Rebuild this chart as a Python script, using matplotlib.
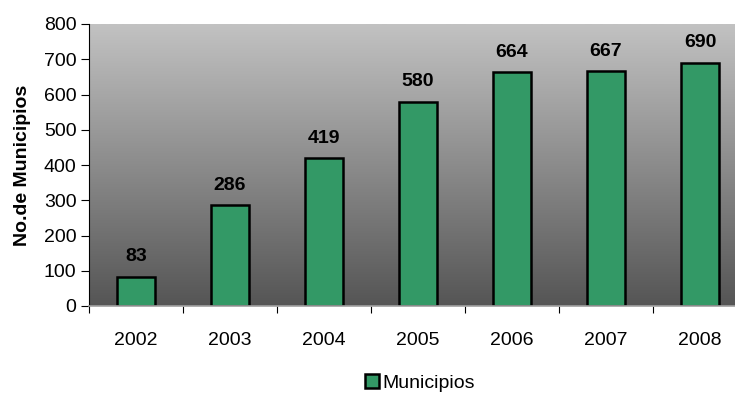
import matplotlib
matplotlib.use("Agg")
import matplotlib.pyplot as plt
import numpy as np

plt.rcParams['font.family'] = ['Liberation Sans', 'DejaVu Sans']

years = ['2002', '2003', '2004', '2005', '2006', '2007', '2008']
values = [83, 286, 419, 580, 664, 667, 690]
series_name = 'Municipios'
ylabel = 'No.de Municipios'

fig = plt.figure(figsize=(7.35, 3.96), dpi=100)
ax = fig.add_axes([89/735, 90/396, 658/735, 282/396])

# gradient background
grad = np.linspace(0, 1, 256).reshape(-1, 1)
cmap = matplotlib.colors.LinearSegmentedColormap.from_list('g', ['#555555', '#c2c2c2'])
ax.imshow(grad, extent=[-0.5, len(years) - 0.5, 0, 800], origin='lower',
          aspect='auto', cmap=cmap, zorder=0)

x = np.arange(len(years))
bars = ax.bar(x, values, width=0.41, color='#339966', edgecolor='black',
              linewidth=1.8, zorder=2, label=series_name)
for xi, v in zip(x, values):
    ax.text(xi, v + 32, str(v), ha='center', va='bottom', fontsize=14,
            fontweight='bold', zorder=3)

ax.set_xlim(-0.5, len(years) - 0.5)
ax.set_ylim(0, 800)
ax.set_yticks(range(0, 801, 100))
ax.set_xticks(np.arange(-0.5, len(years), 1), minor=False)
ax.set_xticklabels([])
ax.set_xticks(x, minor=True)
ax.set_xticklabels(years, minor=True)
ax.tick_params(axis='x', which='minor', length=0, pad=19, labelsize=14)
ax.tick_params(axis='x', which='major', length=5, direction='out', color='black')
ax.tick_params(axis='y', length=6, direction='out', labelsize=14, pad=3)

for s in ['top', 'right']:
    ax.spines[s].set_visible(False)
ax.spines['left'].set_color('black')
ax.spines['bottom'].set_color('#a0a0a0')
ax.spines['bottom'].set_linewidth(1.2)

ax.set_ylabel(ylabel, fontsize=14, fontweight='bold')
ax.yaxis.set_label_coords(-58/658, 0.5)

fig.legend(handles=[bars], labels=[series_name], loc='center',
           bbox_to_anchor=(420/735, 1 - 383/396), frameon=False, fontsize=14,
           handlelength=0.7, handleheight=0.7, handletextpad=0.2)

fig.savefig('out.png', dpi=100)
